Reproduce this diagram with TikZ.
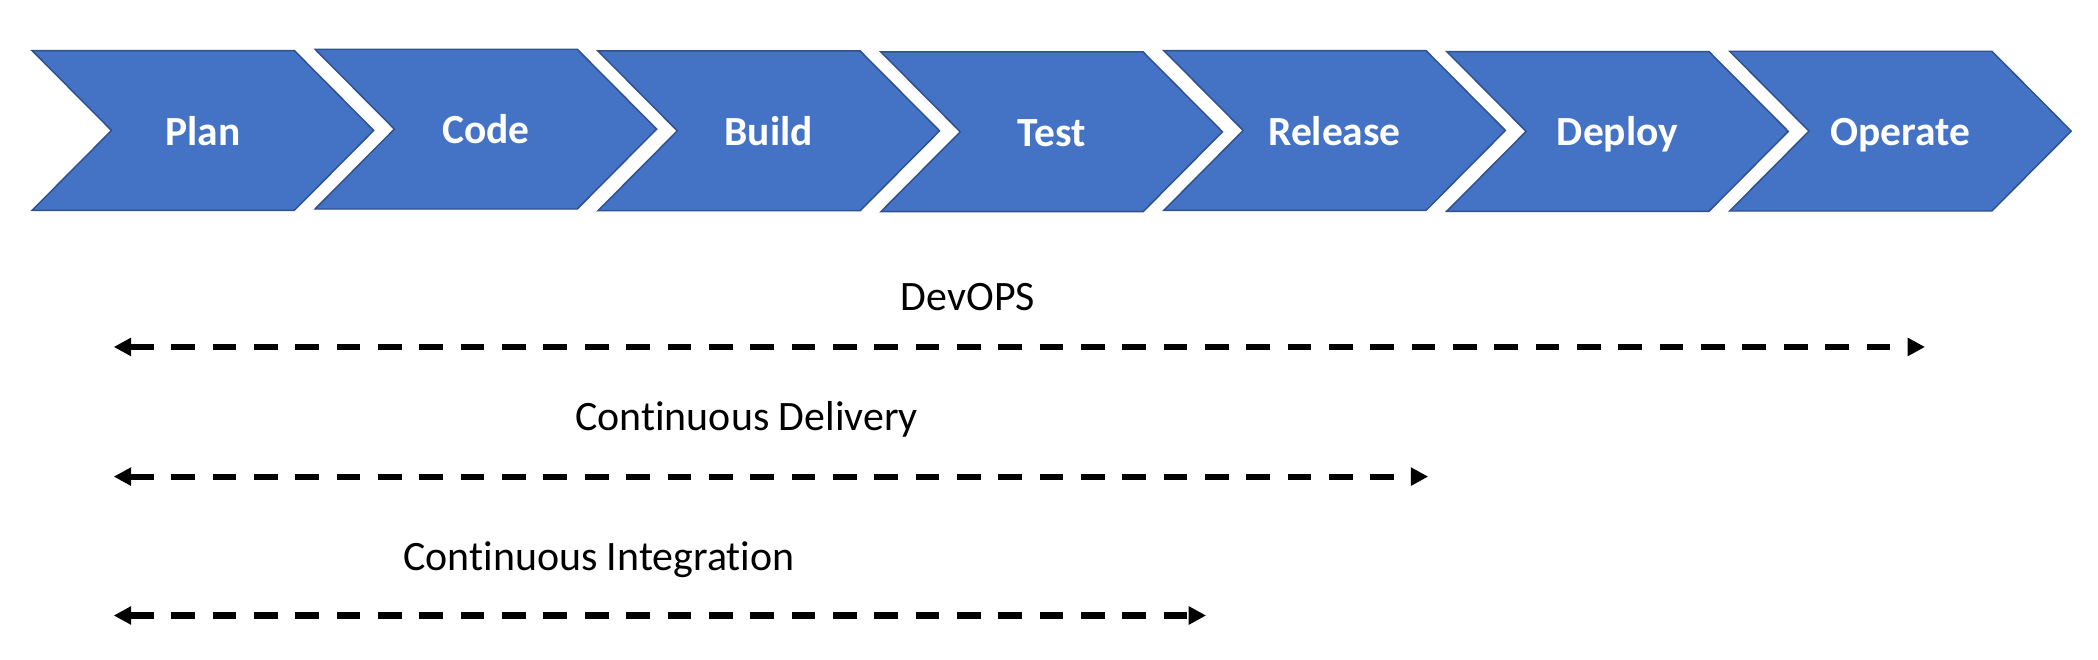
\documentclass[tikz,border=0pt]{standalone}
\usepackage{fontspec}
\setmainfont{Carlito}[Ligatures=NoCommon]
\usetikzlibrary{arrows.meta}
\definecolor{chevfill}{HTML}{4472C4}
\definecolor{chevline}{HTML}{2F528F}
\tikzset{
  chev/.style={fill=chevfill, draw=chevline, line width=1.1pt, line join=miter},
  chevlabel/.style={text=white, font=\fontsize{31}{36}\selectfont\bfseries, anchor=base, inner sep=0pt},
  spanlabel/.style={text=black, font=\fontsize{31.3}{36}\selectfont, anchor=base, inner sep=0pt},
  spanarrow/.style={line width=4.5pt, dash pattern=on 17.7pt off 13.2pt,
    {Triangle[length=13pt,width=13pt]}-{Triangle[length=13pt,width=13pt]}}
}
\begin{document}
\begin{tikzpicture}[x=1pt,y=-1pt]
\useasboundingbox (0,0) rectangle (1568,493);
\foreach \i/\nm/\lab/\dy in {0/plan/Plan/0, 1/code/Code/-1, 2/build/Build/0.3, 3/test/Test/1, 4/release/Release/0, 5/deploy/Deploy/0.7, 6/operate/Operate/0.5}
{
  \pgfmathsetmacro\xo{24+211.45*\i}
  \draw[chev] (\xo,37.8+\dy) -- ++(196,0) -- ++(59.3,59.7) -- ++(-59.3,59.7) -- ++(-196,0) -- ++(59.3,-59.7) -- cycle;
  \node[chevlabel] (\nm) at (\xo+127.6,108.4+\dy) {\lab};
}
\coordinate (devL) at (85,259.3);
\coordinate (devR) at (1438.7,259.3);
\coordinate (cdL) at (85,356.2);
\coordinate (cdR) at (1067.4,356.2);
\coordinate (ciL) at (85,460);
\coordinate (ciR) at (901.4,460);
\draw[spanarrow] (devL) -- (devR);
\draw[spanarrow] (cdL) -- (cdR);
\draw[spanarrow] (ciL) -- (ciR);
\node[spanlabel] (devops) at (723.4,232) {DevOPS};
\node[spanlabel] (cd) at (558,321.4) {Continuous Delivery};
\node[spanlabel] (ci) at (447.7,426) {Continuous Integration};
\end{tikzpicture}
\end{document}
